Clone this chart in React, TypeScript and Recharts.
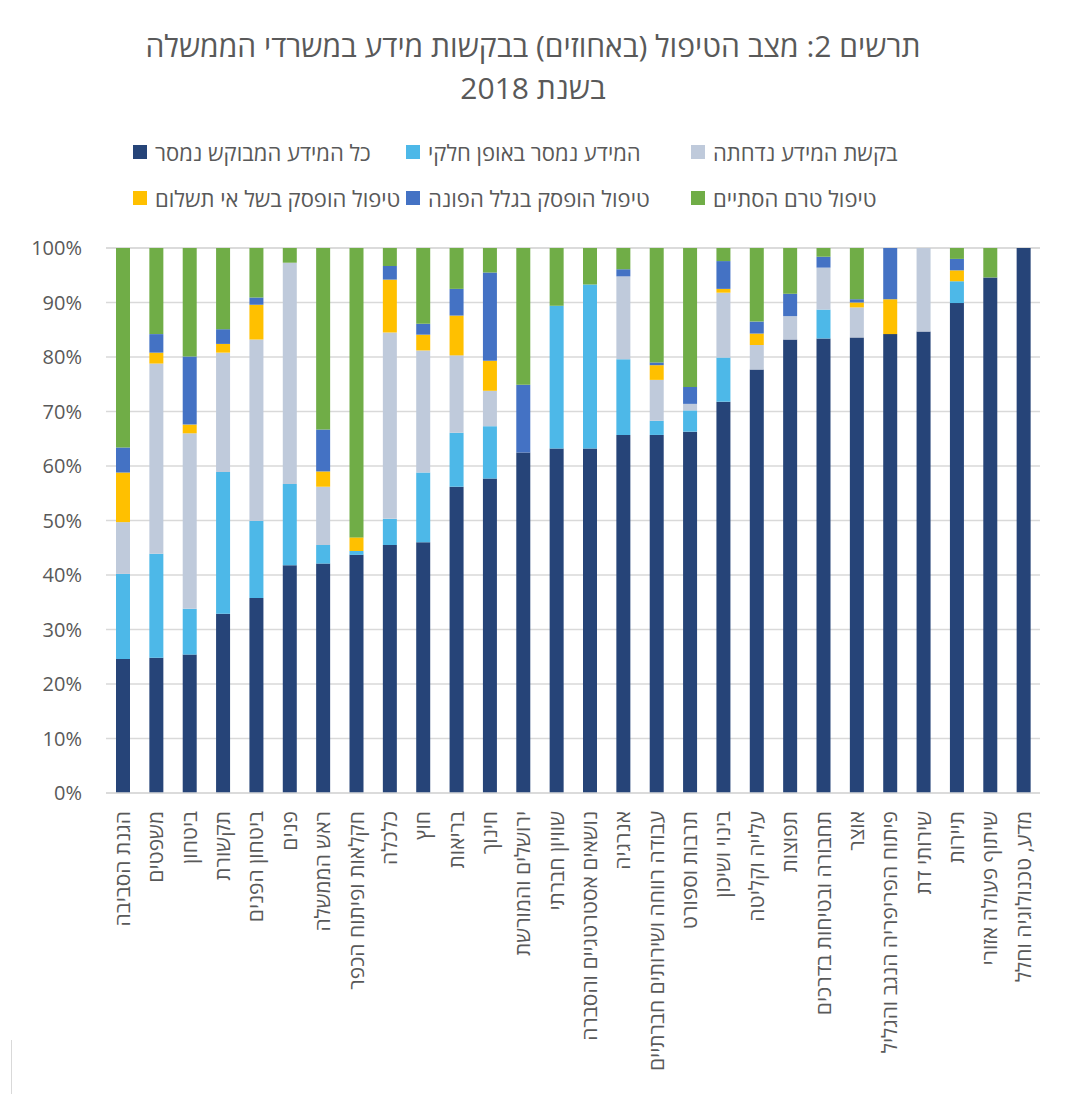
import { BarChart, Bar, XAxis, YAxis, CartesianGrid } from "recharts";

const categories = [
  "הגנת הסביבה",
  "משפטים",
  "ביטחון",
  "תקשורת",
  "ביטחון הפנים",
  "פנים",
  "ראש הממשלה",
  "חקלאות ופיתוח הכפר",
  "כלכלה",
  "חוץ",
  "בריאות",
  "חינוך",
  "ירושלים והמורשת",
  "שוויון חברתי",
  "נושאים אסטרטגיים והסברה",
  "אנרגיה",
  "עבודה רווחה ושירותים חברתיים",
  "תרבות וספורט",
  "בינוי ושיכון",
  "עלייה וקליטה",
  "תפוצות",
  "תחבורה ובטיחות בדרכים",
  "אוצר",
  "פיתוח הפריפריה הנגב והגליל",
  "שירותי דת",
  "תיירות",
  "שיתוף פעולה אזורי",
  "מדע, טכנולוגיה וחלל",
];

// כל המידע המבוקש נמסר
const fullyDelivered = [24.6, 24.8, 25.4, 32.9, 35.8, 41.8, 42.1, 43.7, 45.5, 46.0, 56.2, 57.7, 62.5, 63.2, 63.2, 65.7, 65.7, 66.3, 71.8, 77.7, 83.2, 83.4, 83.6, 84.2, 84.7, 89.9, 94.6, 100];
// המידע נמסר באופן חלקי
const partiallyDelivered = [15.6, 19.1, 8.4, 26.0, 14.1, 14.9, 3.4, 0.7, 4.8, 12.8, 9.9, 9.6, 0, 26.2, 30.1, 13.9, 2.6, 3.9, 8.1, 0, 0, 5.3, 0, 0, 0, 4.0, 0, 0];
// בקשת המידע נדחתה
const rejected = [9.5, 34.9, 32.2, 21.9, 33.3, 40.6, 10.7, 0, 34.2, 22.4, 14.2, 6.5, 0, 0, 0, 15.2, 7.5, 1.2, 11.9, 4.5, 4.3, 7.7, 5.5, 0, 15.3, 0, 0, 0];
// טיפול הופסק בשל אי תשלום
const stoppedNoPayment = [9.1, 2.0, 1.6, 1.6, 6.4, 0, 2.8, 2.5, 9.7, 2.9, 7.3, 5.5, 0, 0, 0, 0, 2.7, 0, 0.7, 2.1, 0, 0, 0.9, 6.4, 0, 2.0, 0, 0];
// טיפול הופסק בגלל הפונה
const stoppedByApplicant = [4.6, 3.4, 12.5, 2.7, 1.3, 0, 7.7, 0, 2.5, 2.0, 4.9, 16.2, 12.4, 0, 0, 1.3, 0.5, 3.1, 5.1, 2.2, 4.1, 2.0, 0.6, 9.4, 0, 2.1, 0, 0];
// טיפול טרם הסתיים
const notFinished = [36.6, 15.8, 19.9, 14.9, 9.1, 2.7, 33.3, 53.1, 3.3, 13.9, 7.5, 4.5, 25.1, 10.6, 6.7, 3.9, 21.0, 25.5, 2.4, 13.5, 8.4, 1.6, 9.4, 0, 0, 2.0, 5.4, 0];

const yTicks = [0, 10, 20, 30, 40, 50, 60, 70, 80, 90, 100];

const SERIES = [
  { key: "full", name: "כל המידע המבוקש נמסר", color: "#264478", values: fullyDelivered },
  { key: "partial", name: "המידע נמסר באופן חלקי", color: "#4db8e8", values: partiallyDelivered },
  { key: "rejected", name: "בקשת המידע נדחתה", color: "#bfcadb", values: rejected },
  { key: "noPay", name: "טיפול הופסק בשל אי תשלום", color: "#ffc000", values: stoppedNoPayment },
  { key: "applicant", name: "טיפול הופסק בגלל הפונה", color: "#4472c4", values: stoppedByApplicant },
  { key: "open", name: "טיפול טרם הסתיים", color: "#70ad47", values: notFinished },
];

const data = categories.map((c, i) => {
  const row: Record<string, string | number> = { name: c };
  SERIES.forEach((s) => (row[s.key] = s.values[i]));
  return row;
});

const FONT = '"Open Sans", "Liberation Sans", "DejaVu Sans", sans-serif';
const TEXT = "#595959";

// legend grid: row 1 then row 2, left to right
const LEGEND_ROWS = [
  ["full", "partial", "rejected"],
  ["noPay", "applicant", "open"],
];
const LEGEND_COLS = [133, 406, 691];
const LEGEND_TOPS = [139, 185];

function XTick(props: any) {
  const { x, y, payload } = props;
  return (
    <text
      x={x}
      y={y}
      transform={`rotate(-90, ${x}, ${y})`}
      textAnchor="end"
      dy="0.35em"
      fill={TEXT}
      fontSize={21}
      fontFamily={FONT}
    >
      {payload.value}
    </text>
  );
}

export default function App() {
  return (
    <div
      style={{
        position: "absolute",
        left: 0,
        top: 0,
        width: 1066,
        height: 1094,
        background: "#fff",
        fontFamily: FONT,
        color: TEXT,
      }}
    >
      <div
        dir="rtl"
        style={{
          position: "absolute",
          top: 25,
          left: 0,
          width: 1066,
          textAlign: "center",
          fontSize: 30,
          lineHeight: "42px",
        }}
      >
        <div>תרשים 2: מצב הטיפול (באחוזים) בבקשות מידע במשרדי הממשלה</div>
        <div>בשנת 2018</div>
      </div>

      {LEGEND_ROWS.map((row, ri) =>
        row.map((k, ci) => {
          const s = SERIES.find((d) => d.key === k)!;
          return (
            <div
              key={k}
              style={{
                position: "absolute",
                left: LEGEND_COLS[ci],
                top: LEGEND_TOPS[ri],
                display: "flex",
                alignItems: "center",
                fontSize: 22,
                lineHeight: "26px",
              }}
            >
              <span style={{ width: 14, height: 14, background: s.color, marginRight: 8, display: "inline-block" }} />
              <span dir="rtl">{s.name}</span>
            </div>
          );
        })
      )}

      <div style={{ position: "absolute", left: 11, top: 1040, width: 1, height: 54, background: "#d9d9d9" }} />

      <BarChart
        width={1066}
        height={1094}
        data={data}
        margin={{ top: 248, right: 26, bottom: 11, left: 0 }}
        barCategoryGap={0}
      >
        <CartesianGrid vertical={false} stroke="#d9d9d9" strokeWidth={1.5} />
        <XAxis
          dataKey="name"
          interval={0}
          tickLine={false}
          axisLine={{ stroke: "#d9d9d9", strokeWidth: 1.5 }}
          height={290}
          tick={<XTick />}
          tickMargin={12}
        />
        <YAxis
          domain={[0, 100]}
          ticks={yTicks}
          tickFormatter={(v) => `${v}%`}
          width={106}
          tickLine={false}
          axisLine={false}
          tickMargin={18}
          tick={{ fill: TEXT, fontSize: 20, fontFamily: FONT }}
        />
        {SERIES.map((s) => (
          <Bar
            key={s.key}
            dataKey={s.key}
            name={s.name}
            stackId="a"
            fill={s.color}
            barSize={14}
            isAnimationActive={false}
          />
        ))}
      </BarChart>
    </div>
  );
}
